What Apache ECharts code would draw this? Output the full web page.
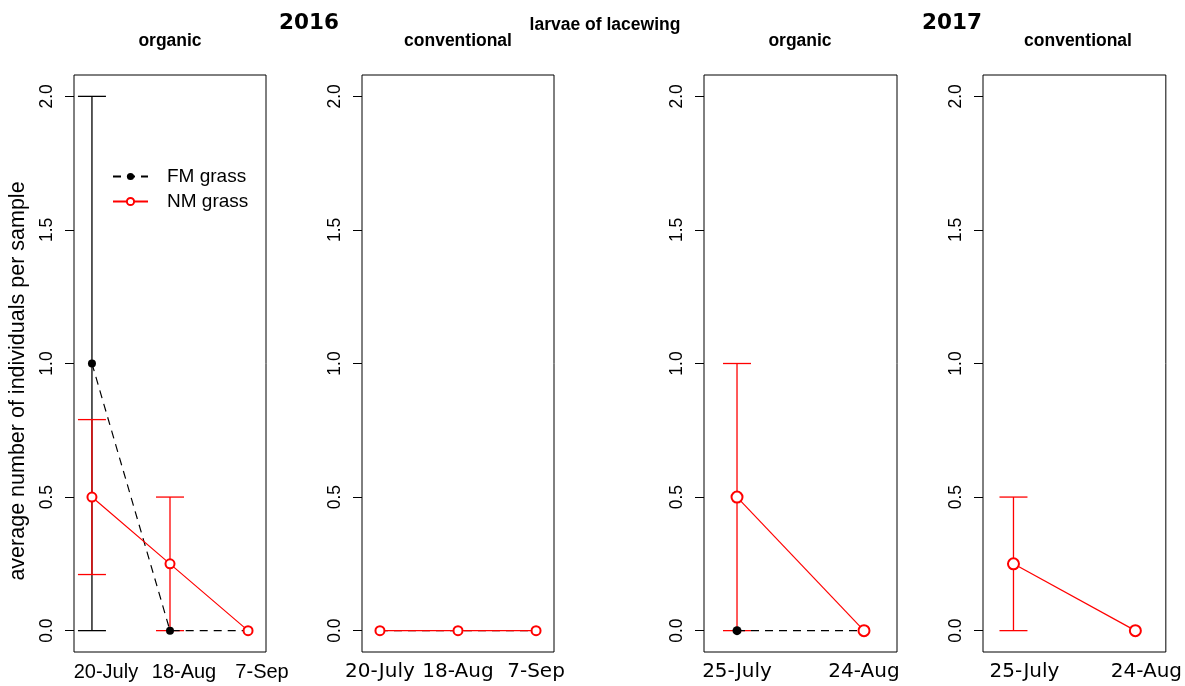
<!DOCTYPE html>
<html>
<head>
<meta charset="utf-8">
<script src="https://cdn.jsdelivr.net/npm/echarts@6/dist/echarts.min.js"></script>
<style>
  html, body { margin: 0; padding: 0; background: #fff; }
  #chart { width: 1185px; height: 686px; }
</style>
</head>
<body>
<div id="chart"></div>
<script>
// Sampling dates
const dates2016 = ['20-July', '18-Aug', '7-Sep'];
const dates2017 = ['25-July', '24-Aug'];
const yTicks = [0, 0.5, 1, 1.5, 2];

// 2016, organic
const fmOrg16 = [1, 0, 0];
const fmOrg16Lo = [0, null, null];
const fmOrg16Hi = [2, null, null];
const nmOrg16 = [0.5, 0.25, 0];
const nmOrg16Lo = [0.21, 0, null];
const nmOrg16Hi = [0.79, 0.5, null];

// 2016, conventional
const fmCon16 = [0, 0, 0];
const nmCon16 = [0, 0, 0];

// 2017, organic
const fmOrg17 = [0, 0];
const nmOrg17 = [0.5, 0];
const nmOrg17Lo = [0, null];
const nmOrg17Hi = [1, null];

// 2017, conventional
const nmCon17 = [0.25, 0];
const nmCon17Lo = [0, null];
const nmCon17Hi = [0.5, null];

const RED = '#ff0000';
const SANS = '"Liberation Sans", Arial, sans-serif';
const DEJAVU = '"DejaVu Sans", sans-serif';

const panels = [
  { left: 74,  width: 192, xmin: 0.77, xmax: 3.23, dates: dates2016, labelFont: SANS,   shift: 28 },
  { left: 362, width: 192, xmin: 0.77, xmax: 3.23, dates: dates2016, labelFont: DEJAVU, shift: 0 },
  { left: 704, width: 193, xmin: 0.74, xmax: 2.26, dates: dates2017, labelFont: DEJAVU, shift: 0 },
  { left: 983, width: 192, xmin: 0.75, xmax: 2.25, dates: dates2017, labelFont: DEJAVU, shift: 22 }
];

const grid = panels.map(p => ({
  left: p.left, top: 75, width: p.width, height: 577,
  show: true, borderColor: '#000', borderWidth: 1, backgroundColor: 'transparent'
}));

const xAxis = panels.map((p, i) => ({
  type: 'value', gridIndex: i, min: p.xmin, max: p.xmax,
  axisLine: { show: false }, axisTick: { show: false }, splitLine: { show: false },
  axisLabel: {
    customValues: p.dates.map((d, k) => k + 1),
    formatter: v => p.dates[Math.round(v) - 1] || '',
    fontFamily: p.labelFont, fontSize: 20, color: '#000', margin: 10,
    padding: [0, 0, 0, p.shift]
  }
}));

const yAxis = panels.map((p, i) => ({
  type: 'value', gridIndex: i, min: -0.08, max: 2.08,
  axisLine: { show: false }, splitLine: { show: false },
  axisTick: { show: true, inside: false, length: 9, customValues: yTicks,
              lineStyle: { color: '#000', width: 1 } },
  axisLabel: { customValues: yTicks, formatter: v => v.toFixed(1), rotate: 90,
               fontFamily: SANS, fontSize: 17.5, color: '#000', margin: 18 }
}));

function points(vals) {
  return vals.map((v, k) => [k + 1, v]);
}
function bars(lo, hi) {
  const out = [];
  lo.forEach((l, k) => { if (l !== null && hi[k] !== null) out.push([k + 1, l, hi[k]]); });
  return out;
}

// Vertical error bar with a horizontal cap at each end
function errorBarSeries(idx, lo, hi, color, name) {
  return {
    type: 'custom', name: name, xAxisIndex: idx, yAxisIndex: idx, silent: true,
    data: bars(lo, hi),
    renderItem: (params, api) => {
      const x = api.value(0);
      const a = api.coord([x, api.value(1)]);
      const b = api.coord([x, api.value(2)]);
      const half = 14;
      const style = { stroke: color, lineWidth: 1.3 };
      return {
        type: 'group',
        children: [
          { type: 'line', shape: { x1: a[0], y1: a[1], x2: b[0], y2: b[1] }, style },
          { type: 'line', shape: { x1: a[0] - half, y1: a[1], x2: a[0] + half, y2: a[1] }, style },
          { type: 'line', shape: { x1: b[0] - half, y1: b[1], x2: b[0] + half, y2: b[1] }, style }
        ]
      };
    }
  };
}

function fmSeries(idx, vals, size) {
  return {
    type: 'line', name: 'FM grass', xAxisIndex: idx, yAxisIndex: idx, silent: true,
    data: points(vals), symbol: 'circle', symbolSize: size,
    lineStyle: { color: '#000', width: 1.2, type: [8, 6] },
    itemStyle: { color: '#000' }
  };
}
function nmSeries(idx, vals, size) {
  return {
    type: 'line', name: 'NM grass', xAxisIndex: idx, yAxisIndex: idx, silent: true,
    data: points(vals), symbol: 'emptyCircle', symbolSize: size,
    lineStyle: { color: RED, width: 1.2 },
    itemStyle: { color: RED, borderColor: RED, borderWidth: 1.2 }
  };
}

const series = [
  // 2016 organic
  errorBarSeries(0, fmOrg16Lo, fmOrg16Hi, '#000', 'FM error'),
  errorBarSeries(0, nmOrg16Lo, nmOrg16Hi, RED, 'NM error'),
  fmSeries(0, fmOrg16, 8),
  nmSeries(0, nmOrg16, 9),
  // 2016 conventional
  fmSeries(1, fmCon16, 7),
  nmSeries(1, nmCon16, 9),
  // 2017 organic
  errorBarSeries(2, nmOrg17Lo, nmOrg17Hi, RED, 'NM error'),
  fmSeries(2, fmOrg17, 9),
  nmSeries(2, nmOrg17, 11),
  // 2017 conventional
  errorBarSeries(3, nmCon17Lo, nmCon17Hi, RED, 'NM error'),
  nmSeries(3, nmCon17, 11)
];

const titleBold = { fontFamily: SANS, fontWeight: 'bold', fontSize: 17.5, color: '#000' };
const yearBold = { fontFamily: DEJAVU, fontWeight: 'bold', fontSize: 21.5, color: '#000' };

const option = {
  animation: false,
  backgroundColor: '#fff',
  title: [
    { text: '2016', left: 309, top: 12, textAlign: 'center', textStyle: yearBold, padding: 0 },
    { text: '2017', left: 952, top: 12, textAlign: 'center', textStyle: yearBold, padding: 0 },
    { text: 'larvae of lacewing', left: 605, top: 16, textAlign: 'center', textStyle: titleBold, padding: 0 },
    { text: 'organic', left: 170, top: 32, textAlign: 'center', textStyle: titleBold, padding: 0 },
    { text: 'conventional', left: 458, top: 32, textAlign: 'center', textStyle: titleBold, padding: 0 },
    { text: 'organic', left: 800, top: 32, textAlign: 'center', textStyle: titleBold, padding: 0 },
    { text: 'conventional', left: 1078, top: 32, textAlign: 'center', textStyle: titleBold, padding: 0 }
  ],
  graphic: [{
    type: 'text', x: 18, y: 381, rotation: Math.PI / 2, silent: true,
    style: {
      text: 'average number of individuals per sample',
      font: '21.5px "Liberation Sans", Arial, sans-serif',
      fill: '#000', align: 'center', verticalAlign: 'middle'
    }
  }],
  legend: {
    data: ['FM grass', 'NM grass'],
    orient: 'vertical', left: 112, top: 167, itemWidth: 35, itemHeight: 9, itemGap: 6,
    padding: 0, selectedMode: false,
    textStyle: { fontFamily: SANS, fontSize: 19, color: '#000', padding: [0, 0, 0, 14] }
  },
  grid, xAxis, yAxis, series
};

const chart = echarts.init(document.getElementById('chart'), null, { renderer: 'canvas' });
chart.setOption(option);
</script>
</body>
</html>
